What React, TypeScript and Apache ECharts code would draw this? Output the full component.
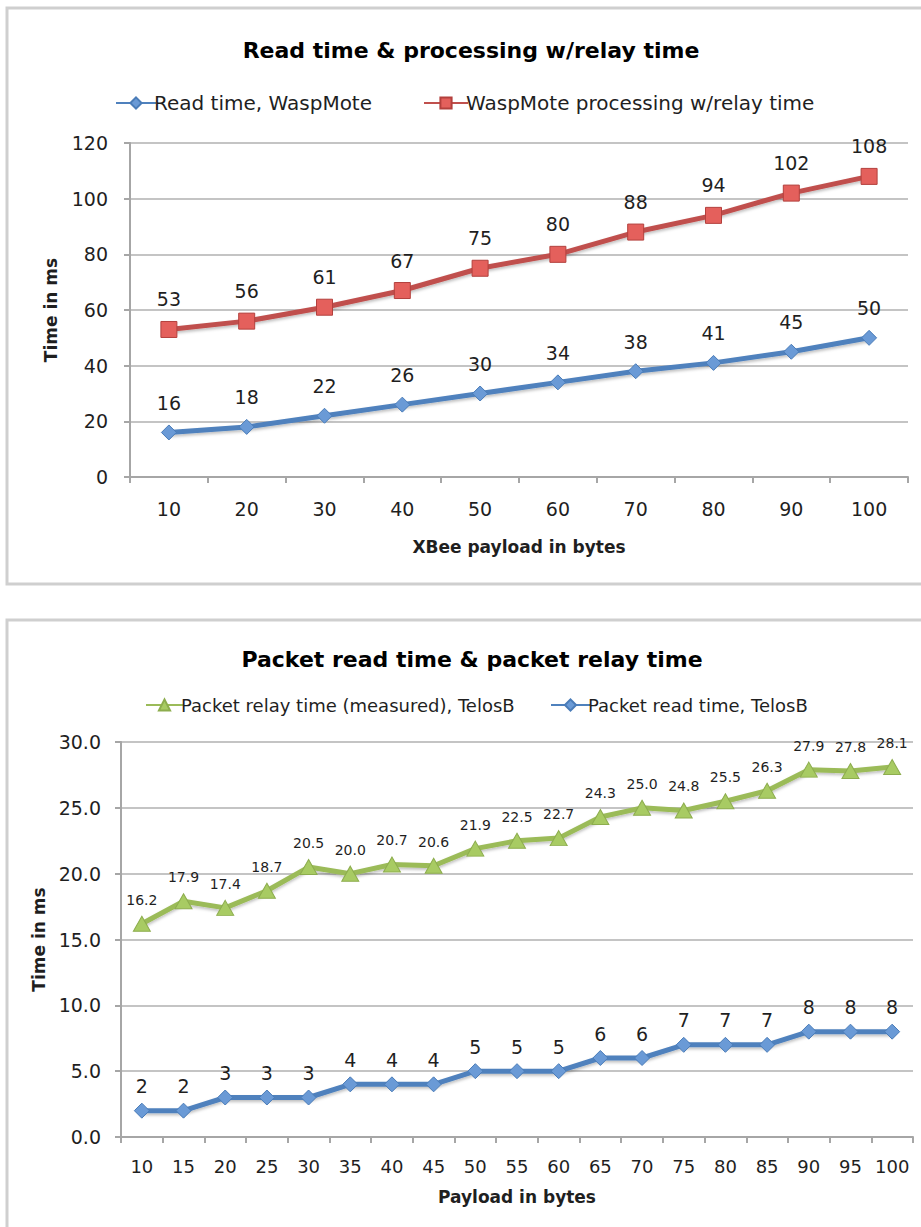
import React, { useEffect, useRef } from "react";
import * as echarts from "echarts";

const payload1 = ["10", "20", "30", "40", "50", "60", "70", "80", "90", "100"];
const readTimeWasp = [16, 18, 22, 26, 30, 34, 38, 41, 45, 50];
const processingWasp = [53, 56, 61, 67, 75, 80, 88, 94, 102, 108];

const payload2 = ["10", "15", "20", "25", "30", "35", "40", "45", "50", "55", "60", "65", "70", "75", "80", "85", "90", "95", "100"];
const relayTelos = [16.2, 17.9, 17.4, 18.7, 20.5, 20.0, 20.7, 20.6, 21.9, 22.5, 22.7, 24.3, 25.0, 24.8, 25.5, 26.3, 27.9, 27.8, 28.1];
const readTelos = [2, 2, 3, 3, 3, 4, 4, 4, 5, 5, 5, 6, 6, 7, 7, 7, 8, 8, 8];

const FONT = "DejaVu Sans";
const BLUE = "#4F81BD";
const RED = "#C0504D";
const GREEN = "#9BBB59";
const GRID = "#C4C4C4";
const AXIS = "#A6A6A6";
const TXT = "#1F1F1F";

export default function App() {
  const ref = useRef<HTMLDivElement>(null);
  useEffect(() => {
    const chart = echarts.init(ref.current!, null, { renderer: "svg" });
    const yAxisCommon = {
      type: "value",
      nameLocation: "middle",
      nameTextStyle: { fontFamily: FONT, fontWeight: "bold", fontSize: 17, color: TXT },
      axisLine: { show: true, lineStyle: { color: AXIS, width: 2 } },
      axisTick: { show: true, length: 6, lineStyle: { color: AXIS, width: 2 } },
      splitLine: { show: true, lineStyle: { color: GRID, width: 2 } },
    };
    const xAxisCommon = {
      type: "category",
      boundaryGap: true,
      nameLocation: "middle",
      nameTextStyle: { fontFamily: FONT, fontWeight: "bold", fontSize: 17, color: TXT },
      axisLine: { show: true, lineStyle: { color: AXIS, width: 2 } },
      axisTick: { show: true, length: 6, lineStyle: { color: AXIS, width: 2 } },
      splitLine: { show: false },
    };
    const legendText1 = { fontFamily: FONT, fontSize: 20, color: TXT, padding: [0, 0, 0, -7] };
    const legendText2 = { fontFamily: FONT, fontSize: 18, color: TXT, padding: [0, 0, 0, -7] };
    const lineShadow = { shadowColor: "rgba(0,0,0,0.25)", shadowBlur: 3, shadowOffsetY: 2 };
    const option: any = {
      animation: false,
      backgroundColor: "#ffffff",
      graphic: [
        { type: "rect", shape: { x: 7, y: 8, width: 960, height: 576 }, style: { fill: "none", stroke: "#CFCFCF", lineWidth: 3 } },
        { type: "rect", shape: { x: 7, y: 620, width: 960, height: 660 }, style: { fill: "none", stroke: "#CFCFCF", lineWidth: 3 } },
      ],
      title: [
        {
          text: "Read time & processing w/relay time",
          left: 466, top: 34, textAlign: "center",
          textStyle: { fontFamily: FONT, fontWeight: "bold", fontSize: 22, color: "#000" },
        },
        {
          text: "Packet read time & packet relay time",
          left: 467, top: 643, textAlign: "center",
          textStyle: { fontFamily: FONT, fontWeight: "bold", fontSize: 22, color: "#000" },
        },
      ],
      legend: [
        {
          data: ["Read time, WaspMote"],
          left: 110, top: 88, itemWidth: 40, itemHeight: 14,
          textStyle: legendText1,
        },
        {
          data: ["WaspMote processing w/relay time"],
          left: 418, top: 88, itemWidth: 44, itemHeight: 14,
          textStyle: legendText1,
        },
        {
          data: ["Packet relay time (measured), TelosB"],
          left: 140, top: 691, itemWidth: 37, itemHeight: 14,
          textStyle: legendText2,
        },
        {
          data: ["Packet read time, TelosB"],
          left: 545, top: 691, itemWidth: 39, itemHeight: 14,
          textStyle: legendText2,
        },
      ],
      grid: [
        { left: 130, right: 13, top: 143, bottom: 750 },
        { left: 121, right: 8, top: 742, bottom: 90 },
      ],
      xAxis: [
        {
          ...xAxisCommon, gridIndex: 0, data: payload1,
          name: "XBee payload in bytes", nameGap: 61,
          axisLabel: { fontFamily: FONT, fontSize: 19, color: TXT, margin: 22 },
        },
        {
          ...xAxisCommon, gridIndex: 1, data: payload2,
          name: "Payload in bytes", nameGap: 51,
          axisLabel: { fontFamily: FONT, fontSize: 18, color: TXT, margin: 20, interval: 0 },
        },
      ],
      yAxis: [
        {
          ...yAxisCommon, gridIndex: 0, min: 0, max: 120, interval: 20,
          name: "Time in ms", nameGap: 71,
          axisLabel: { fontFamily: FONT, fontSize: 19, color: TXT, margin: 22 },
        },
        {
          ...yAxisCommon, gridIndex: 1, min: 0, max: 30, interval: 5,
          name: "Time in ms", nameGap: 67,
          axisLabel: { fontFamily: FONT, fontSize: 19, color: TXT, margin: 20, formatter: (v: number) => v.toFixed(1) },
        },
      ],
      series: [
        {
          name: "Read time, WaspMote", type: "line", xAxisIndex: 0, yAxisIndex: 0,
          data: readTimeWasp, symbol: "diamond", symbolSize: [15, 15],
          lineStyle: { color: BLUE, width: 5, ...lineShadow },
          itemStyle: { color: "#6A9AD6", borderColor: "#4A7CB8", borderWidth: 1 },
          label: { show: true, position: "top", distance: 12, fontFamily: FONT, fontSize: 19, color: TXT },
        },
        {
          name: "WaspMote processing w/relay time", type: "line", xAxisIndex: 0, yAxisIndex: 0,
          data: processingWasp, symbol: "rect", symbolSize: 16,
          lineStyle: { color: RED, width: 5, ...lineShadow },
          itemStyle: { color: "#E4605C", borderColor: "#B3403D", borderWidth: 1 },
          label: { show: true, position: "top", distance: 12, fontFamily: FONT, fontSize: 19, color: TXT },
        },
        {
          name: "Packet relay time (measured), TelosB", type: "line", xAxisIndex: 1, yAxisIndex: 1,
          data: relayTelos, symbol: "triangle", symbolSize: [17, 15],
          lineStyle: { color: GREEN, width: 5, ...lineShadow },
          itemStyle: { color: "#A8CB63", borderColor: "#8DAD4E", borderWidth: 1 },
          label: { show: true, position: "top", distance: 9, fontFamily: FONT, fontSize: 14, color: TXT, formatter: (p: any) => p.value.toFixed(1) },
        },
        {
          name: "Packet read time, TelosB", type: "line", xAxisIndex: 1, yAxisIndex: 1,
          data: readTelos, symbol: "diamond", symbolSize: [15, 15],
          lineStyle: { color: BLUE, width: 5, ...lineShadow },
          itemStyle: { color: "#6A9AD6", borderColor: "#4A7CB8", borderWidth: 1 },
          label: { show: true, position: "top", distance: 7, fontFamily: FONT, fontSize: 19, color: TXT },
        },
      ],
    };
    chart.setOption(option);
    return () => chart.dispose();
  }, []);
  return (
    <div style={{ position: "absolute", left: 0, top: 0, width: 921, height: 1227, background: "#fff" }}>
      <div ref={ref} style={{ width: 921, height: 1227 }} />
    </div>
  );
}
